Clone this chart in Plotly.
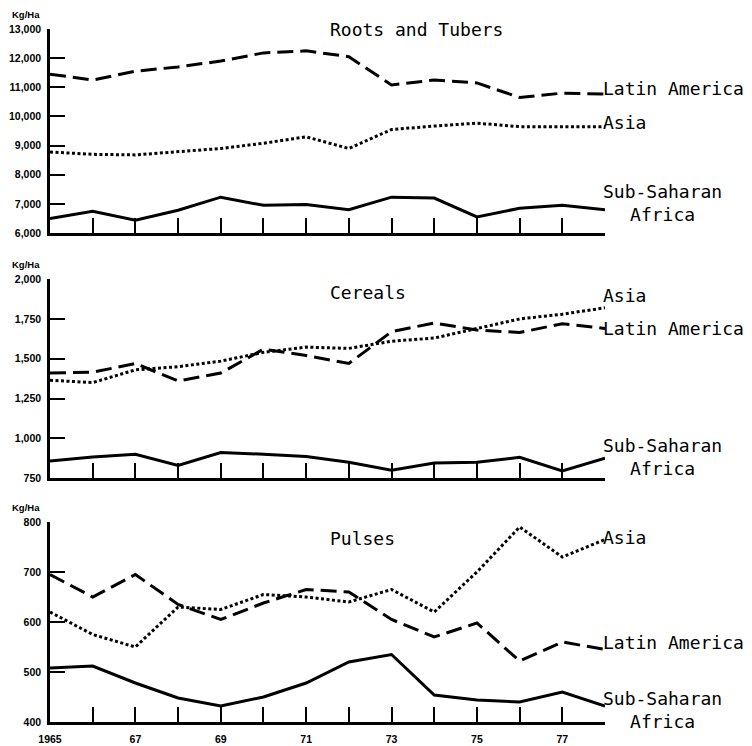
import plotly.graph_objects as go

years = list(range(1965, 1979))

# Roots and Tubers (kg/ha)
roots_latam = [11450, 11250, 11550, 11700, 11900, 12180, 12250, 12050, 11080, 11250, 11150, 10650, 10800, 10770]
roots_asia = [8780, 8700, 8680, 8780, 8900, 9080, 9300, 8900, 9550, 9670, 9770, 9650, 9650, 9650]
roots_ssa = [6500, 6750, 6440, 6780, 7230, 6950, 6980, 6800, 7230, 7200, 6550, 6850, 6950, 6800]

# Cereals (kg/ha)
cereals_latam = [1410, 1415, 1470, 1360, 1410, 1560, 1520, 1470, 1670, 1725, 1680, 1665, 1720, 1690]
cereals_asia = [1365, 1350, 1430, 1450, 1485, 1540, 1573, 1565, 1610, 1630, 1690, 1750, 1780, 1820]
cereals_ssa = [857, 882, 900, 830, 910, 900, 885, 850, 800, 845, 850, 880, 795, 875]

# Pulses (kg/ha)
pulses_latam = [695, 650, 695, 635, 605, 638, 665, 660, 605, 570, 598, 522, 560, 545]
pulses_asia = [620, 575, 550, 630, 625, 655, 650, 640, 665, 620, 700, 790, 730, 765]
pulses_ssa = [508, 512, 478, 448, 432, 450, 478, 520, 535, 454, 444, 440, 460, 432]

x_ticklabels = ["1965", "", "67", "", "69", "", "71", "", "73", "", "75", "", "77", ""]

panels = [
    dict(title="Roots and Tubers", latam=roots_latam, asia=roots_asia, ssa=roots_ssa,
         yrange=[6000, 13000], ytick=[6000, 7000, 8000, 9000, 10000, 11000, 12000, 13000],
         ytext=["6,000", "7,000", "8,000", "9,000", "10,000", "11,000", "12,000", "13,000"],
         domain=[0.7056, 1.0], title_y=13000, latam_y=10970, asia_y=9800, ssa_y=7020),
    dict(title="Cereals", latam=cereals_latam, asia=cereals_asia, ssa=cereals_ssa,
         yrange=[750, 2000], ytick=[750, 1000, 1250, 1500, 1750, 2000],
         ytext=["750", "1,000", "1,250", "1,500", "1,750", "2,000"],
         domain=[0.352, 0.639], title_y=1918, latam_y=1692, asia_y=1900, ssa_y=882),
    dict(title="Pulses", latam=pulses_latam, asia=pulses_asia, ssa=pulses_ssa,
         yrange=[400, 800], ytick=[400, 500, 600, 700, 800],
         ytext=["400", "500", "600", "700", "800"],
         domain=[0.0, 0.2886], title_y=768, latam_y=560, asia_y=770, ssa_y=424),
]

MONO = dict(family="DejaVu Sans Mono", size=18, color="black")
TICKFONT = dict(family="Liberation Sans", size=10.5, color="black", weight="bold")

fig = go.Figure()
annotations = []
layout = {}

for i, p in enumerate(panels):
    n = "" if i == 0 else str(i + 1)
    xa, ya = "x" + n, "y" + n
    fig.add_trace(go.Scatter(x=years, y=p["latam"], mode="lines", xaxis=xa, yaxis=ya,
                             line=dict(color="black", width=3, dash="16px,7px")))
    fig.add_trace(go.Scatter(x=years, y=p["asia"], mode="lines", xaxis=xa, yaxis=ya,
                             line=dict(color="black", width=3, dash="3px,2.5px")))
    fig.add_trace(go.Scatter(x=years, y=p["ssa"], mode="lines", xaxis=xa, yaxis=ya,
                             line=dict(color="black", width=3)))

    bottom = i == len(panels) - 1
    layout["xaxis" + n] = dict(
        domain=[0, 1], anchor=ya, range=[1965, 1978], showgrid=False, zeroline=False,
        showline=True, linecolor="black", linewidth=2.5, ticks="inside", ticklen=15,
        tickwidth=2, tickcolor="black", tickvals=years, ticktext=x_ticklabels,
        showticklabels=bottom, tickfont=TICKFONT, ticklabelstandoff=6, automargin=False,
    )
    layout["yaxis" + n] = dict(
        domain=p["domain"], anchor=xa, range=p["yrange"], showgrid=False, zeroline=False,
        showline=True, linecolor="black", linewidth=2.5, ticks="inside", ticklen=15,
        tickwidth=2, tickcolor="black", tickvals=p["ytick"], ticktext=p["ytext"],
        tickfont=TICKFONT, ticklabelstandoff=4, automargin=False,
    )

    annotations += [
        dict(x=1971.5, y=p["title_y"], xref=xa, yref=ya, text=p["title"], showarrow=False,
             font=MONO, xanchor="left", yanchor="middle"),
        dict(x=1978, y=p["latam_y"], xref=xa, yref=ya, text="Latin America", showarrow=False,
             font=MONO, xanchor="left", yanchor="middle", xshift=-4),
        dict(x=1978, y=p["asia_y"], xref=xa, yref=ya, text="Asia", showarrow=False,
             font=MONO, xanchor="left", yanchor="middle", xshift=-4),
        dict(x=1978, y=p["ssa_y"], xref=xa, yref=ya, text="Sub-Saharan<br>Africa", showarrow=False,
             font=MONO, xanchor="left", yanchor="middle", align="center", xshift=-4),
        dict(x=-0.072, y=p["domain"][1], xref="paper", yref="paper", text="Kg/Ha", showarrow=False,
             font=dict(family="Liberation Sans", size=9.5, color="black", weight="bold"),
             xanchor="left", yanchor="bottom", yshift=7),
    ]

# the page body adds an 8px offset, so the margins are shifted to compensate
fig.update_layout(
    **layout,
    annotations=annotations,
    width=752, height=746,
    margin=dict(l=42, r=155, t=21, b=32),
    paper_bgcolor="white", plot_bgcolor="white",
    showlegend=False,
)

fig.write_html("out.html")
